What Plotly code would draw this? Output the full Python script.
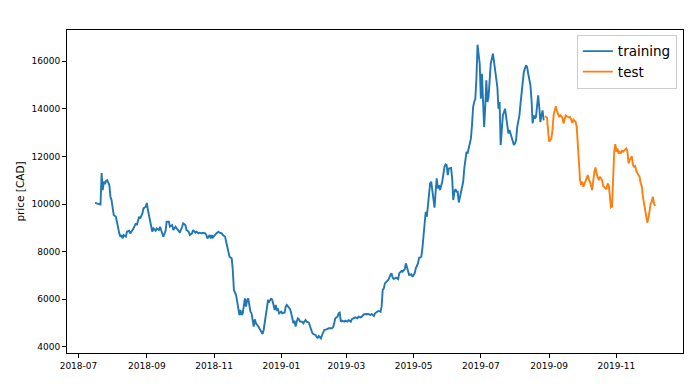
import pandas as pd
import plotly.graph_objects as go

# Day offsets from 2018-07-01 and prices (CAD)
BASE_DATE = "2018-07-01"

train_day = [15, 18, 20, 21, 22, 23, 24, 25, 26, 28, 29, 30, 31, 32, 34, 35, 36, 37, 38, 39, 40, 41, 43, 44, 46, 47, 49, 50, 52, 53, 55, 56, 58, 59, 61, 62, 63, 65, 66, 67, 68, 70, 71, 73, 74, 76, 77, 79, 80, 82, 83, 85, 86, 88, 89, 91, 92, 94, 95, 97, 98,
             100, 101, 103, 104, 106, 107, 109, 110, 112, 113, 115, 116, 117, 119, 120, 121, 122, 124, 125, 127, 128, 130, 131, 133, 134, 136, 137, 139, 140, 141, 142, 143, 144, 145, 146, 147, 148, 149, 150, 151, 152, 153, 154, 155, 156, 157, 158, 159, 160, 161, 163, 164, 166, 167, 168, 169, 170, 171, 172, 173, 175, 176, 178, 179, 180, 181, 182, 184, 185,
             187, 188, 189, 191, 192, 193, 194, 195, 196, 197, 198, 199, 200, 201, 203, 204, 206, 207, 209, 210, 212, 213, 215, 216, 217, 218, 220, 221, 222, 223, 225, 227, 230, 231, 232, 233, 235, 236, 237, 238, 239, 241, 242, 244, 245, 247, 248, 250, 251, 253, 254, 256, 257, 259, 260, 262, 263, 265, 266, 268, 269, 271, 272, 274, 275, 276, 277, 278, 280, 281, 283, 284, 285, 286, 288, 290, 291, 293, 294, 296, 297, 298, 299, 300, 302, 303, 305, 306, 308, 309, 310, 311, 312, 313, 314, 315, 316, 317, 318, 319, 320, 321, 322, 323, 324, 325, 326, 327, 328, 329, 330, 332, 333, 334, 335, 336, 338, 339, 340, 341, 342, 343, 344, 345, 347, 348, 349, 350, 351, 352, 353, 354, 356, 357, 358, 359, 360, 361, 362, 364, 365, 366, 367, 368, 369, 370, 371, 372, 373, 374, 376, 377, 378, 379, 380, 381, 382, 383, 384, 385, 386, 387, 388, 389, 390, 391, 392, 394, 395, 396, 397, 398, 400, 401, 402, 403, 404, 406, 407, 408, 409, 410, 411, 412, 413, 414, 415, 416, 417, 418, 419, 420, 421, 422]
train_price = [10050, 10000, 9980, 11310, 10590, 10940, 10840, 10980, 11010, 10800, 10310, 10170, 9890, 9540, 9470, 9190, 8980, 8770, 8630, 8700, 8560, 8700, 8630, 8840, 8880, 8770, 8910, 8980, 9190, 9120, 9470, 9400, 9610, 9820, 9890, 10050, 9750, 9330, 8980, 8840, 8980, 8880, 8980, 8910, 9050, 8740, 8630, 8880, 9260, 9260, 9050, 9120, 8910, 9050, 8980, 8880, 8800, 9050, 9190, 9120, 8910,
               8840, 8700, 8770, 8910, 8800, 8840, 8770, 8800, 8770, 8800, 8770, 8700, 8560, 8700, 8560, 8700, 8600, 8740, 8770, 8840, 8800, 8770, 8700, 8630, 8420, 8140, 7790, 7720, 7230, 6390, 6280, 6180, 5900, 5480, 5340, 5550, 5340, 5410, 5830, 6040, 5690, 5970, 6040, 5620, 5480, 5410, 5130, 4850, 5160, 4990, 4880, 4780, 4640, 4540, 4710, 4990, 5270, 5620, 5970, 5900, 6040, 5940, 5550, 5760, 5550, 5580, 5410, 5480, 5410,
               5440, 5690, 5760, 5620, 5580, 5410, 5130, 4990, 5100, 4850, 5060, 5200, 5160, 5060, 5060, 4990, 5130, 5060, 5020, 4850, 4600, 4540, 4500, 4430, 4360, 4460, 4360, 4500, 4640, 4710, 4740, 4780, 4780, 4830, 4990, 5200, 5270, 5410, 5440, 5060, 5100, 5060, 5100, 5060, 5130, 5060, 5160, 5200, 5240, 5200, 5270, 5240, 5270, 5370, 5380, 5370, 5380, 5340, 5380, 5300, 5410, 5480, 5510, 5480, 5690, 6390, 6460, 6670, 6740, 6810, 7020, 7090, 6910, 6850, 6910, 6850, 7090, 7190, 7160, 7270, 7510, 7330, 7090, 7020, 7050, 6950, 7090, 7300, 7510, 7750, 7750, 7790, 8140, 8630, 9190, 9680, 9470, 9890, 10380, 10870, 10940, 10520, 10100, 9850, 10520, 11080, 10660, 10800, 10590, 10730, 10940, 11570, 11670, 11640, 11220, 11500, 11520, 11080, 10170, 10520, 10630, 10520, 10520, 10070, 10520, 10730, 10940, 11500, 11850, 12200, 12130, 12340, 12760, 13320, 14080, 14290, 14430, 15270, 16700, 15900, 14430, 15480, 13800, 13240, 14080, 15200, 14290, 14500, 15200, 15900, 16320, 15970, 15410, 15270, 14920, 14010, 14290, 12480, 13040, 13730, 13870, 14010, 13660, 13240, 12970, 13110, 12970, 12620, 12480, 12550, 12690, 13240, 13730, 14220, 14780, 15200, 15550, 15830, 15760, 15480, 15200, 14990, 14360, 13390, 13730, 13600, 13660, 14080, 14570, 14080, 13450, 13730, 13940, 13520]

test_day = [423, 425, 426, 427, 429, 430, 431, 433, 434, 435, 436, 437, 439, 440, 441, 442, 443, 445, 446, 447, 448, 449, 451, 452, 453, 454, 455, 456, 457, 458, 460, 461, 462, 463, 464, 466, 467, 468, 469, 470, 472, 473, 474, 475, 476, 478, 479, 480, 481, 482, 483, 484, 485, 486, 487, 488, 489, 490, 491, 492, 493, 494, 496, 497, 498, 499, 500, 502, 503, 504, 505, 506, 508, 509, 510, 511, 512, 514, 515, 516, 517, 518, 519, 520, 521, 522, 523]
test_price = [13690, 13640, 13110, 12620, 12760, 13110, 13730, 14110, 13920, 13800, 13660, 13730, 13640, 13390, 13520, 13730, 13690, 13640, 13660, 13550, 13410, 13550, 13450, 13240, 12550, 11430, 11010, 10800, 10940, 10730, 11010, 11120, 11220, 11040, 10940, 10590, 11150, 11360, 11540, 11290, 11010, 11150, 11080, 11010, 10760, 10660, 10620, 10870, 10800, 10380, 9860, 9890, 11150, 12200, 12520, 12200, 12340, 12130, 12200, 12130, 12240, 12200, 12300, 12340, 12200, 11710, 11850, 12010, 11640, 11570, 11600, 11400, 11220, 11150, 10870, 10760, 10310, 9820, 9610, 9220, 9400, 9820, 10000, 10100, 10310, 10050, 9920]

series_names = ["training", "test"]
series_colors = ["#1f77b4", "#ff7f0e"]
y_ticks = [4000, 6000, 8000, 10000, 12000, 14000, 16000]

base = pd.Timestamp(BASE_DATE)
train_x = base + pd.to_timedelta(train_day, unit="D")
test_x = base + pd.to_timedelta(test_day, unit="D")

# matplotlib-like 5% margins
all_days = train_day + test_day
all_prices = train_price + test_price
dspan = max(all_days) - min(all_days)
x_lo = base + pd.Timedelta(days=min(all_days) - 0.05 * dspan)
x_hi = base + pd.Timedelta(days=max(all_days) + 0.05 * dspan)
pspan = max(all_prices) - min(all_prices)
y_lo = min(all_prices) - 0.05 * pspan
y_hi = max(all_prices) + 0.05 * pspan

font = "DejaVu Sans, sans-serif"

fig = go.Figure()
fig.add_trace(go.Scatter(x=train_x, y=train_price, mode="lines", name=series_names[0],
                         line=dict(color=series_colors[0], width=1.9)))
fig.add_trace(go.Scatter(x=test_x, y=test_price, mode="lines", name=series_names[1],
                         line=dict(color=series_colors[1], width=1.9)))

fig.update_layout(
    width=699, height=388,
    margin=dict(l=56, r=24, t=22, b=43),
    paper_bgcolor="white", plot_bgcolor="white",
    font=dict(family=font, color="black", size=9),
    showlegend=True,
    legend=dict(x=0.99, y=0.985, xanchor="right", yanchor="top",
                bgcolor="rgba(255,255,255,0.8)", bordercolor="#cccccc", borderwidth=1,
                font=dict(size=13.5, family=font), itemwidth=30, tracegroupgap=0),
)
fig.update_xaxes(
    range=[x_lo, x_hi], tickformat="%Y-%m", dtick="M2", tick0="2018-07-01",
    showgrid=False, zeroline=False, showline=True, linecolor="black", linewidth=1,
    mirror=True, ticks="outside", ticklen=4, tickcolor="black",
    tickfont=dict(size=9, family=font),
)
fig.update_yaxes(
    range=[y_lo, y_hi], tickvals=y_ticks, ticktext=[str(v) for v in y_ticks],
    showgrid=False, zeroline=False, showline=True, linecolor="black", linewidth=1,
    mirror=True, ticks="outside", ticklen=4, tickcolor="black",
    tickfont=dict(size=9, family=font),
    title=dict(text="price [CAD]", font=dict(size=10.5, family=font), standoff=4),
)

fig.write_html("out.html")
